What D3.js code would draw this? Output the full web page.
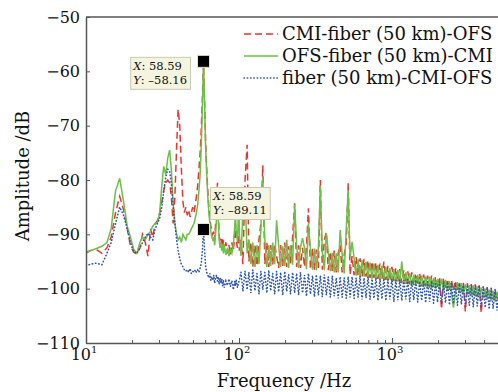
<!DOCTYPE html>
<html>
<head>
<meta charset="utf-8">
<script src="https://cdn.jsdelivr.net/npm/d3@7"></script>
<style>
  body { margin: 0; background: #fff; }
  svg { display: block; font-family: "DejaVu Serif", serif; }
</style>
</head>
<body>
<div id="chart"></div>
<script>
// frequency bins (Hz)
const freqs = [
  10, 10.7, 11.7, 12.7, 13.7, 14.6, 15.6, 16.6, 17.6, 18.6, 19.5, 20.5, 21.5, 22.5, 23.4, 24.4,
  25.4, 26.4, 27.3, 28.3, 29.3, 30.3, 31.3, 32.2, 33.2, 34.2, 35.2, 36.1, 37.1, 38.1, 39.1, 40.0,
  41.0, 42.0, 43.0, 43.9, 44.9, 45.9, 46.9, 47.9, 48.8, 49.8, 50.8, 51.8, 52.7, 53.7, 54.7, 55.7,
  56.6, 57.6, 58.59, 59.6, 60.5, 61.5, 62.5, 63.5, 64.5, 65.4, 66.4, 67.4, 68.4, 69.3, 70.3, 71.3,
  72.3, 73.2, 74.2, 75.2, 76.2, 77.1, 78.1, 79.1, 80.1, 82.0, 84.0, 85.9, 87.9, 89.8, 91.8, 93.8,
  94.7, 95.7, 97.7, 99.6, 100.6,
  103, 106, 109.5, 113, 116, 119.5, 123, 127, 131, 135, 139, 143,
  147.5, 152, 156.5, 161, 166, 171, 176, 181.5, 187, 193, 199, 205, 211, 217, 224, 231,
  238, 245, 252, 260, 268, 276, 284, 293, 302, 311, 320, 330,
  340, 350, 361, 372, 383, 395, 407, 419, 432, 445, 458, 472, 487, 502, 517,
  532, 548, 565, 582, 600, 618, 637, 656, 676, 697, 718, 740, 762, 785, 809, 834,
  859, 885, 912, 940, 968, 998, 1028, 1059, 1091, 1124,
  1158, 1193, 1230, 1267, 1305, 1345, 1386, 1428, 1471, 1516, 1562, 1609, 1658, 1708, 1760, 1813,
  1868, 1925, 1983, 2043, 2105, 2169, 2235, 2303,
  2373, 2445, 2519, 2595, 2674, 2755, 2838, 2924, 3013, 3104, 3198, 3295, 3395, 3498, 3604, 3713,
  3826, 3942, 4061, 4184, 4311, 4442, 4576, 4715, 4858, 5000
];

// CMI-fiber (50 km)-OFS, dB
const cmiFiberOfs = [
  -93.3, -93, -92.8, -93.5, -92.5, -90.5, -86, -83, -85.5, -89, -92, -93.3, -93.6, -92.5, -90, -91.5,
  -94, -89, -90.5, -88, -87.5, -86, -84, -82, -80.5, -80, -80.5, -83, -88, -83, -74, -67,
  -70, -78, -84, -86, -85, -86.5, -85.5, -86.8, -86, -85, -86, -84.5, -83, -81, -78, -75,
  -71, -65, -58.5, -66, -73, -78, -82, -85, -87, -88.5, -89, -90, -89.5, -91, -88, -84,
  -80.5, -86, -90.5, -91, -92, -90.5, -92.5, -91, -93, -91.5, -93.5, -92, -93.8, -91.5, -93, -90,
  -88, -91, -92.5, -90, -93,
  -91, -95.5, -80, -73.5, -95, -91.5, -96, -92, -95.8, -91, -88, -77.3,
  -95.5, -91.5, -96, -92, -95.6, -91.8, -94, -96.2, -92, -95.8, -91.5, -96, -92.2, -95.5, -90.5, -84.3,
  -96, -92, -96.2, -92.5, -96, -92.4, -85.2, -96.4, -92.6, -96.5, -92.8, -96.2,
  -80, -96.5, -91, -89.6, -96.6, -93.2, -96.8, -93, -97, -93.4, -92, -97, -93.6, -92, -80.6,
  -97.4, -94, -97.5, -94.2, -97.6, -94.4, -97.8, -94.5, -97.8, -94.8, -98, -95, -98, -95.2, -98.2, -95.4,
  -98.2, -95, -98.4, -95.8, -98.5, -96, -98.6, -96.2, -98.8, -96.4,
  -99, -96.6, -99.2, -96.8, -99.2, -97, -99.4, -97.2, -99.4, -97.2, -99.6, -97.4, -99.6, -97.6, -99.8, -97.6,
  -99.8, -97.8, -100, -97.8, -103.8, -98, -100.2, -98.2,
  -100.4, -98.4, -100.4, -98.6, -100.6, -98.6, -100.8, -98.8, -104.2, -99, -101, -99.2, -101.2, -99.2, -101.4, -99.4,
  -104.5, -99.6, -101.6, -99.8, -101.8, -100, -102, -100.2, -102.2, -100.4
];

// OFS-fiber (50 km)-CMI, dB
const ofsFiberCmi = [
  -93.5, -93, -92.6, -92.2, -91.5, -89, -82, -79.7, -84, -88.5, -90.5, -92.8, -93.5, -91.5, -90.5, -91,
  -90, -89.5, -88.5, -88, -87.8, -86, -81, -77.5, -79, -76, -74.5, -78, -84, -88, -90, -91,
  -90.5, -91.5, -90, -90.5, -91, -90, -90, -89.5, -89, -88.5, -88, -87, -86, -84.5, -82, -79,
  -74, -67, -58.16, -66, -74, -79, -83, -86, -88, -89.5, -90.5, -91, -90.5, -92, -90, -87,
  -85, -87.5, -91, -92.5, -91.5, -93, -91.8, -93.5, -92, -93.8, -92.5, -94, -92.8, -93.5, -92, -88.5,
  -86, -89, -91.5, -84, -90,
  -94, -86, -83, -93.5, -91, -95.5, -91.5, -96, -92, -95.5, -89, -79.7,
  -91, -96, -92, -95.8, -91.5, -95.5, -87.4, -92, -96, -92.2, -95.8, -91, -96.2, -92, -95.6, -84.5,
  -92, -96.2, -92.4, -90.7, -92.6, -96.4, -88, -92.8, -96.5, -92.6, -96.6, -92.5,
  -81, -93, -96.6, -89.8, -93.2, -96.8, -93.4, -97, -93.5, -97, -89.2, -93.6, -97.2, -89, -82,
  -94.2, -91.4, -94.4, -97.6, -94.6, -97.8, -94.8, -97.8, -95, -98, -95.2, -98.2, -95.4, -98.2, -95.6, -98.4,
  -95.8, -98.4, -96, -98.6, -96.2, -98.8, -96.4, -98.8, -96.6, -99,
  -95, -99, -97, -99.2, -97.2, -99.4, -97.4, -99.4, -97.4, -99.6, -97.6, -99.6, -97.8, -99.8, -97.8, -100,
  -98, -100, -98.2, -100.2, -98.2, -100.4, -98.4, -100.4,
  -98.6, -100.6, -103.5, -100.8, -98.8, -100.8, -99, -101, -99.2, -101.2, -99.4, -101.4, -99.4, -101.4, -99.6, -101.6,
  -99.8, -101.8, -100, -102, -100.2, -102.2, -100.4, -102.4, -100.6, -102.6
];

// fiber (50 km)-CMI-OFS, dB
const fiberCmiOfs = [
  -95.8, -95.5, -95.3, -95.6, -93.5, -91.5, -88, -85, -86.5, -89, -91.5, -93.2, -93.5, -92.5, -91.5, -90.5,
  -89.8, -90.5, -91, -89, -88, -87, -85, -82, -79.5, -78, -78.5, -80.5, -85, -88, -91, -93,
  -94.5, -95.5, -96, -96.5, -96.8, -96.5, -97, -96.3, -97.2, -96.8, -97, -96.5, -97, -96.6, -97, -96.2,
  -95.5, -93, -89.11, -93, -96, -97, -97.5, -98, -97.2, -98.5, -97.8, -98.5, -97.5, -99, -98, -97.5,
  -98.6, -97.8, -99.2, -98, -99, -98.2, -99.5, -98.4, -99.8, -98.6, -99.4, -98.2, -99.6, -98.5, -100.2, -98.6,
  -99.5, -98.3, -99.8, -98.8, -98.4,
  -97, -100.5, -96.8, -100.2, -97, -100.8, -96.5, -100.4, -97.2, -101, -96.8, -100.2,
  -97, -100.8, -96.6, -100.4, -97.2, -101, -96.8, -100.6, -97, -101.2, -96.8, -100.5, -97.4, -101, -97, -100.8,
  -97.2, -101.2, -97, -100.8, -97.5, -101.4, -97.2, -101, -97.6, -101.5, -97.4, -101.2,
  -97.6, -101.5, -97.4, -101.2, -97.8, -101.6, -97.6, -101.4, -98, -101.8, -97.8, -101.6, -98, -101.8, -97.8,
  -101.6, -97.8, -101.8, -98, -101.6, -97.6, -102, -98, -101.7, -97.8, -102, -98.2, -101.8, -98, -102.2, -98.2,
  -101.9, -98.1, -102.2, -98.3, -102, -98.2, -102.4, -98.4, -102.1, -98.3,
  -102.2, -98.4, -102, -98.3, -102.4, -98.5, -102.1, -98.4, -102.5, -98.6, -102.2, -98.5, -102.6, -98.7, -102.4, -98.6,
  -102.7, -98.8, -102.5, -98.7, -102.8, -98.9, -102.6, -98.8,
  -103, -99, -102.8, -98.9, -103.1, -99.1, -102.9, -99.1, -103.3, -99.3, -103.1, -99.2, -103.4, -99.4, -103.2, -99.4,
  -103.6, -99.6, -103.5, -99.7, -103.8, -99.9, -103.7, -100, -104, -100.2
];

const seriesNames = ["CMI-fiber (50 km)-OFS", "OFS-fiber (50 km)-CMI", "fiber (50 km)-CMI-OFS"];
const seriesColors = ["#f2312a", "#6cbf47", "#2d55b5"];
const seriesDash = ["7,4", null, "0.4,2.9"];
const seriesWidth = [1.5, 1.5, 1.6];
const seriesCap = ["butt", "butt", "round"];
const yTicks = [-110, -100, -90, -80, -70, -60, -50];
const xMajor = [10, 100, 1000];
const datatips = [
  { x: 58.59, y: -58.16, side: "left" },
  { x: 58.59, y: -89.11, side: "right" }
];

const width = 498, height = 392;
const margin = { top: 17, right: -1, bottom: 49, left: 86 };

const svg = d3.select("#chart").append("svg")
  .attr("width", width)
  .attr("height", height);

const x = d3.scaleLog().domain([10, 5000]).range([margin.left, width - margin.right]);
const y = d3.scaleLinear().domain([-110, -50]).range([height - margin.bottom, margin.top]);

svg.append("clipPath").attr("id", "plotClip")
  .append("rect")
  .attr("x", margin.left).attr("y", margin.top)
  .attr("width", width - margin.left).attr("height", height - margin.bottom - margin.top);

// curves
const allSeries = [cmiFiberOfs, ofsFiberCmi, fiberCmiOfs];
const line = d3.line()
  .x(d => x(d[0]))
  .y(d => y(d[1]));

const plot = svg.append("g").attr("clip-path", "url(#plotClip)");
allSeries.forEach((vals, i) => {
  plot.append("path")
    .datum(freqs.map((f, j) => [f, vals[j]]))
    .attr("fill", "none")
    .attr("stroke", seriesColors[i])
    .attr("stroke-width", seriesWidth[i])
    .attr("stroke-linecap", seriesCap[i])
    .attr("stroke-dasharray", seriesDash[i])
    .attr("d", line);
});

// axes
const axisColor = "#555";
const xAxis = d3.axisBottom(x)
  .tickValues(x.ticks())
  .tickSizeInner(-3)
  .tickSizeOuter(0)
  .tickFormat("");
const gx = svg.append("g")
  .attr("transform", `translate(0,${height - margin.bottom})`)
  .call(xAxis);
gx.selectAll(".tick line")
  .attr("y2", d => xMajor.includes(d) ? -5 : -3);
gx.select(".domain").attr("stroke", axisColor).attr("stroke-width", 1.5);
gx.selectAll(".tick line").attr("stroke", axisColor);

xMajor.forEach((v, i) => {
  const t = svg.append("text")
    .attr("x", x(v) - 2)
    .attr("y", height - margin.bottom + 17)
    .attr("text-anchor", "middle")
    .attr("font-size", 16)
    .attr("fill", "#111");
  t.append("tspan").text("10");
  t.append("tspan").attr("font-size", 10).attr("dy", -7).text(i + 1);
});

const yAxis = d3.axisLeft(y)
  .tickValues(yTicks)
  .tickSizeInner(-4)
  .tickSizeOuter(0)
  .tickPadding(6);
const gy = svg.append("g")
  .attr("transform", `translate(${margin.left},0)`)
  .call(yAxis);
gy.select(".domain").attr("stroke", axisColor).attr("stroke-width", 1.5);
gy.selectAll(".tick line").attr("stroke", axisColor);
gy.selectAll(".tick text")
  .attr("font-size", 16)
  .attr("font-family", "DejaVu Serif, serif")
  .attr("fill", "#111");

// top frame line
svg.append("line")
  .attr("x1", margin.left).attr("x2", width)
  .attr("y1", margin.top).attr("y2", margin.top)
  .attr("stroke", axisColor).attr("stroke-width", 1.5);

// axis titles
svg.append("text")
  .attr("x", 284).attr("y", 387)
  .attr("text-anchor", "middle")
  .attr("font-size", 18)
  .attr("fill", "#111")
  .text("Frequency /Hz");

svg.append("text")
  .attr("transform", "translate(29,176) rotate(-90)")
  .attr("text-anchor", "middle")
  .attr("font-size", 18)
  .attr("fill", "#111")
  .text("Amplitude /dB");

// legend
const legend = svg.append("g");
seriesNames.forEach((name, i) => {
  const ly = 34 + i * 22;
  legend.append("line")
    .attr("x1", 244).attr("x2", 278)
    .attr("y1", ly).attr("y2", ly)
    .attr("stroke", seriesColors[i])
    .attr("stroke-width", seriesWidth[i])
    .attr("stroke-linecap", seriesCap[i])
    .attr("stroke-dasharray", seriesDash[i]);
  legend.append("text")
    .attr("x", 282).attr("y", ly + 6)
    .attr("font-size", 18)
    .attr("fill", "#111")
    .text(name);
});

// datatips
datatips.forEach(tip => {
  const cx = x(tip.x), cy = y(tip.y);
  const g = svg.append("g");
  const box = g.append("rect")
    .attr("fill", "#f4f4df")
    .attr("stroke", "#c9c9b4")
    .attr("stroke-width", 1);
  const txt = g.append("text")
    .attr("font-size", 11.5)
    .attr("fill", "#111");
  const l1 = txt.append("tspan").attr("x", 0).attr("y", 0);
  l1.append("tspan").attr("font-style", "italic").text("X");
  l1.append("tspan").text(": " + tip.x.toFixed(2));
  const l2 = txt.append("tspan").attr("x", 0).attr("y", 14);
  l2.append("tspan").attr("font-style", "italic").text("Y");
  l2.append("tspan").text(": \u2013" + Math.abs(tip.y).toFixed(2));
  const bb = txt.node().getBBox();
  const w = bb.width + 5, h = 32;
  let bx, by;
  if (tip.side === "left") {
    bx = cx - 13 - w; by = cy - 4;
  } else {
    bx = cx + 7; by = cy - 42;
  }
  box.attr("x", bx).attr("y", by).attr("width", w).attr("height", h);
  txt.attr("transform", `translate(${bx + 2.5},${by + 13})`);
  svg.append("rect")
    .attr("x", cx - 6).attr("y", cy - 6)
    .attr("width", 12).attr("height", 12)
    .attr("fill", "#000")
    .attr("stroke", "#e6e4cc")
    .attr("stroke-width", 1);
});
</script>
</body>
</html>
